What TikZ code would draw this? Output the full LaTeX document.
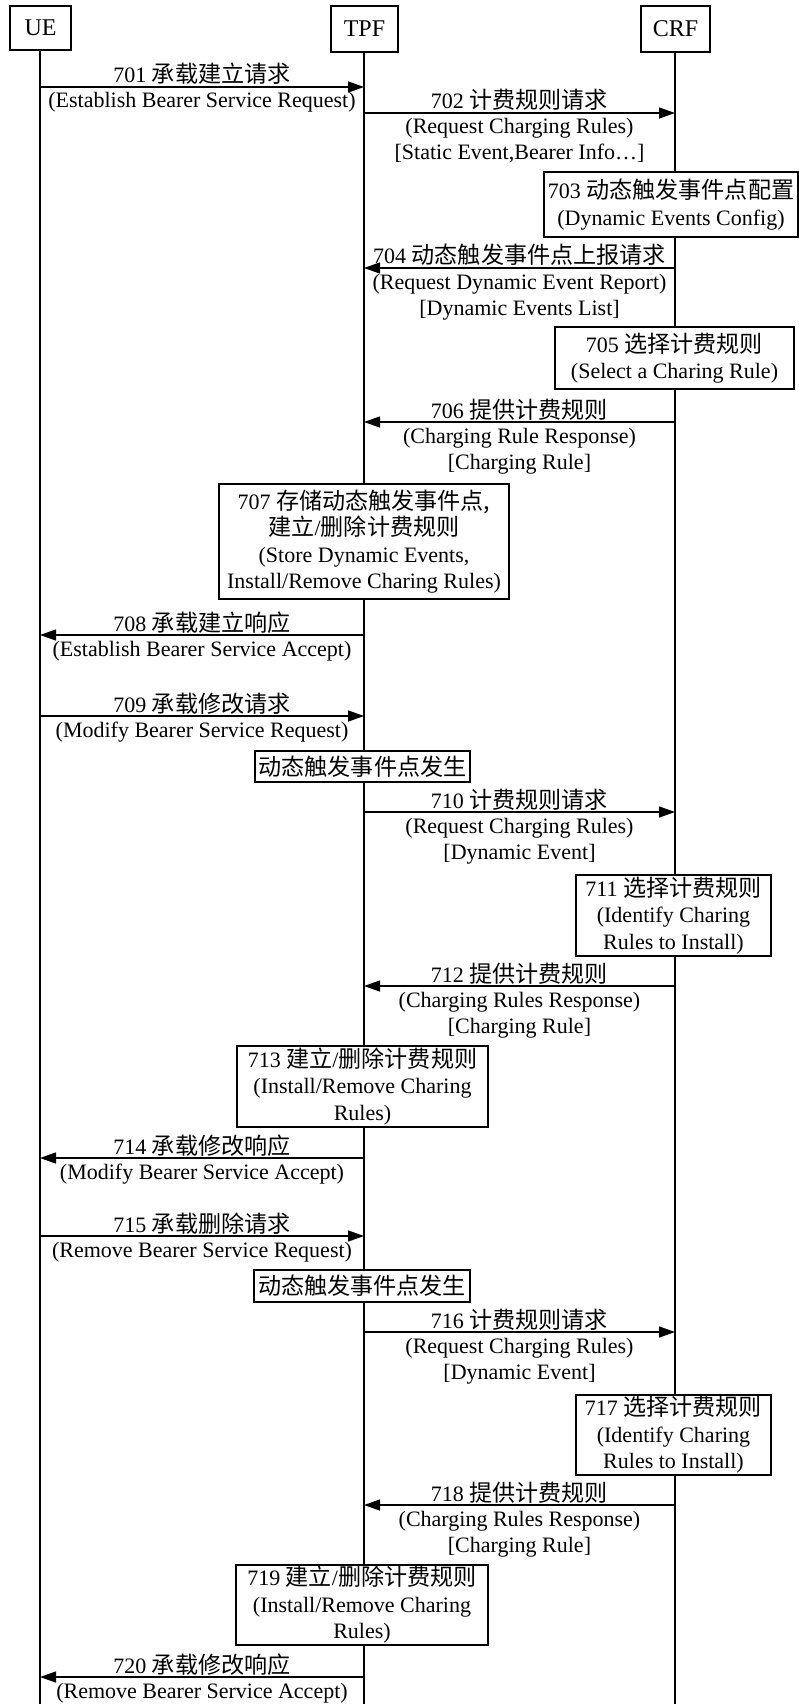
\documentclass[tikz,border=0pt]{standalone}
\usepackage{fontspec}
\setmainfont{Liberation Serif}
\newfontfamily\zhfont[Scale=1.05]{Noto Sans CJK SC}
\newcommand{\zhtxt}[1]{{\zhfont #1}}
\usetikzlibrary{arrows.meta}
\tikzset{
  basetxt/.style={inner sep=0pt, font=\fontsize{22}{26}\selectfont},
  lbl/.style={basetxt, anchor=base},
  headbox/.style={draw, line width=1.3pt, inner sep=0pt, font=\fontsize{24}{28}\selectfont},
  stepbox/.style={draw, line width=1.3pt, fill=white, align=center, inner sep=0pt, font=\fontsize{22}{26.5}\selectfont},
  life/.style={line width=1.1pt},
  msg/.style={line width=1.3pt, -{Triangle[length=16pt,width=11pt]}},
}
% #1 id, #2 y, #3 x from, #4 x to, #5 x centre, #6 label, #7 sub1
\newcommand{\msgone}[7]{%
  \coordinate (m#1s) at (#3,#2);
  \coordinate (m#1e) at (#4,#2);
  \draw[msg] (m#1s) -- (m#1e);
  \node[lbl] (m#1l) at (#5,#2-4) {#6};
  \node[lbl] (m#1a) at (#5,#2+21) {#7};
}
\newcommand{\msgtwo}[8]{%
  \msgone{#1}{#2}{#3}{#4}{#5}{#6}{#7}
  \node[lbl] (m#1b) at (#5,#2+47) {#8};
}
\begin{document}
\begin{tikzpicture}[x=1pt,y=-1pt]
\useasboundingbox (0,0) rectangle (799,1704);
% heads
\node[headbox, minimum width=61pt, minimum height=44pt] (ue) at (40.5,28) {UE};
\node[headbox, minimum width=67pt, minimum height=46pt] (tpf) at (364.5,29) {TPF};
\node[headbox, minimum width=69pt, minimum height=46pt] (crf) at (675.5,29) {CRF};
\coordinate (ueend) at (40,1704);
\coordinate (tpfend) at (364,1704);
\coordinate (crfend) at (675,1704);
\draw[life] (ue.south -| ueend) -- (ueend);
\draw[life] (tpf.south -| tpfend) -- (tpfend);
\draw[life] (crf.south -| crfend) -- (crfend);
% messages
\msgone{701}{87}{40}{364}{202}{701 \zhtxt{承载建立请求}}{(Establish Bearer Service Request)}
\msgtwo{702}{113}{364}{675}{519.5}{702 \zhtxt{计费规则请求}}{(Request Charging Rules)}{[Static Event,Bearer Info…]}
\node[stepbox, minimum width=254pt, minimum height=65pt] (b703) at (671,204.5) {703 \zhtxt{动态触发事件点配置}\\(Dynamic Events Config)};
\msgtwo{704}{268}{675}{364}{519.5}{704 \zhtxt{动态触发事件点上报请求}}{(Request Dynamic Event Report)}{[Dynamic Events List]}
\node[stepbox, minimum width=239pt, minimum height=62pt] (b705) at (674.5,358) {705 \zhtxt{选择计费规则}\\(Select a Charing Rule)};
\msgtwo{706}{422}{675}{364}{519.5}{706 \zhtxt{提供计费规则}}{(Charging Rule Response)}{[Charging Rule]}
\node[stepbox, minimum width=290pt, minimum height=115pt] (b707) at (364,541.5) {707 \zhtxt{存储动态触发事件点,}\\\zhtxt{建立}/\zhtxt{删除计费规则}\\(Store Dynamic Events,\\Install/Remove Charing Rules)};
\msgone{708}{635}{364}{40}{202}{708 \zhtxt{承载建立响应}}{(Establish Bearer Service Accept)}
\msgone{709}{716}{40}{364}{202}{709 \zhtxt{承载修改请求}}{(Modify Bearer Service Request)}
\node[stepbox, minimum width=215pt, minimum height=31pt] (ev1) at (362.5,766.5) {\zhtxt{动态触发事件点发生}};
\msgtwo{710}{812}{364}{675}{519.5}{710 \zhtxt{计费规则请求}}{(Request Charging Rules)}{[Dynamic Event]}
\node[stepbox, minimum width=195pt, minimum height=81pt] (b711) at (673.5,915.5) {711 \zhtxt{选择计费规则}\\(Identify Charing\\Rules to Install)};
\msgtwo{712}{986}{675}{364}{519.5}{712 \zhtxt{提供计费规则}}{(Charging Rules Response)}{[Charging Rule]}
\node[stepbox, minimum width=251pt, minimum height=81pt] (b713) at (362.5,1086.5) {713 \zhtxt{建立}/\zhtxt{删除计费规则}\\(Install/Remove Charing\\Rules)};
\msgone{714}{1158}{364}{40}{202}{714 \zhtxt{承载修改响应}}{(Modify Bearer Service Accept)}
\msgone{715}{1236}{40}{364}{202}{715 \zhtxt{承载删除请求}}{(Remove Bearer Service Request)}
\node[stepbox, minimum width=216pt, minimum height=32pt] (ev2) at (362,1286) {\zhtxt{动态触发事件点发生}};
\msgtwo{716}{1332}{364}{675}{519.5}{716 \zhtxt{计费规则请求}}{(Request Charging Rules)}{[Dynamic Event]}
\node[stepbox, minimum width=195pt, minimum height=80pt] (b717) at (673.5,1435) {717 \zhtxt{选择计费规则}\\(Identify Charing\\Rules to Install)};
\msgtwo{718}{1505}{675}{364}{519.5}{718 \zhtxt{提供计费规则}}{(Charging Rules Response)}{[Charging Rule]}
\node[stepbox, minimum width=252pt, minimum height=80pt] (b719) at (362,1605) {719 \zhtxt{建立}/\zhtxt{删除计费规则}\\(Install/Remove Charing\\Rules)};
\msgone{720}{1677}{364}{40}{202}{720 \zhtxt{承载修改响应}}{(Remove Bearer Service Accept)}
\end{tikzpicture}
\end{document}
